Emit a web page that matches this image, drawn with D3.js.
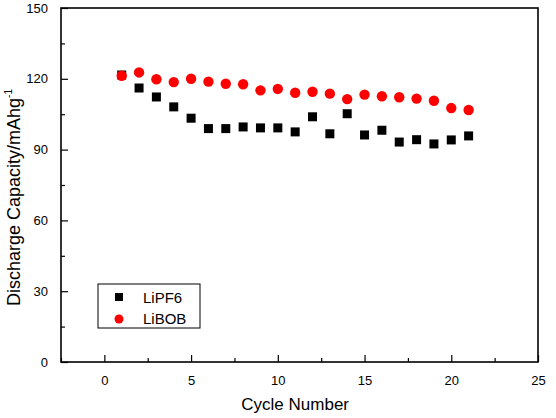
<!DOCTYPE html>
<html>
<head>
<meta charset="utf-8">
<script src="https://cdn.jsdelivr.net/npm/d3@7"></script>
<style>
  body { margin: 0; background: #fff; }
  svg text { font-family: "Liberation Sans", Arial, sans-serif; fill: #000; }
</style>
</head>
<body>
<div id="chart"></div>
<script>
// Discharge capacity vs cycle number for two electrolytes
const cycles = d3.range(1, 22);
const lipf6 = [121.6, 116.1, 112.3, 108.1, 103.3, 98.9, 98.9, 99.6, 99.2, 99.2, 97.5,
  103.9, 96.7, 105.2, 96.2, 98.2, 93.2, 94.2, 92.4, 94.1, 95.8];
const libob = [121.3, 122.7, 119.8, 118.6, 120.0, 118.8, 117.9, 117.7, 115.1, 115.7, 114.1,
  114.5, 113.7, 111.4, 113.3, 112.6, 112.2, 111.6, 110.7, 107.6, 106.8];
const xTicks = [0, 5, 10, 15, 20, 25];
const yTicks = [0, 30, 60, 90, 120, 150];

const W = 556, H = 418;
const margin = {top: 8, right: 18, bottom: 56, left: 61};
const width = W - margin.left - margin.right;
const height = H - margin.top - margin.bottom;

const svg = d3.select('#chart').append('svg')
  .attr('width', W)
  .attr('height', H);

const g = svg.append('g')
  .attr('transform', `translate(${margin.left},${margin.top})`);

const x = d3.scaleLinear().domain([-2.5, 25]).range([0, width]);
const y = d3.scaleLinear().domain([0, 150]).range([height, 0]);

// minor ticks
g.append('g')
  .attr('transform', `translate(0,${height})`)
  .call(d3.axisBottom(x).tickValues(d3.range(-2.5, 25, 5)).tickSize(-4).tickFormat(''))
  .call(a => a.select('.domain').remove())
  .selectAll('line').attr('stroke-width', 1.2);
g.append('g')
  .call(d3.axisLeft(y).tickValues(d3.range(15, 150, 30)).tickSize(-4).tickFormat(''))
  .call(a => a.select('.domain').remove())
  .selectAll('line').attr('stroke-width', 1.2);

// major axes
const xAxis = g.append('g')
  .attr('transform', `translate(0,${height})`)
  .call(d3.axisBottom(x).tickValues(xTicks).tickSize(-7).tickPadding(14));
xAxis.select('.domain').remove();
xAxis.selectAll('line').attr('stroke-width', 1.2);
xAxis.selectAll('text').style('font-size', '13px');

const yAxis = g.append('g')
  .call(d3.axisLeft(y).tickValues(yTicks).tickSize(-7).tickPadding(13));
yAxis.select('.domain').remove();
yAxis.selectAll('line').attr('stroke-width', 1.2);
yAxis.selectAll('text').style('font-size', '13px');

// frame
g.append('rect')
  .attr('width', width)
  .attr('height', height)
  .attr('fill', 'none')
  .attr('stroke', '#000')
  .attr('stroke-width', 1.6);

// points
const sq = 9;
g.selectAll('.pf6')
  .data(cycles)
  .enter().append('rect')
  .attr('x', (d, i) => x(d) - sq / 2)
  .attr('y', (d, i) => y(lipf6[i]) - sq / 2)
  .attr('width', sq)
  .attr('height', sq)
  .attr('fill', '#000');

g.selectAll('.bob')
  .data(cycles)
  .enter().append('circle')
  .attr('cx', d => x(d))
  .attr('cy', (d, i) => y(libob[i]))
  .attr('r', 5.2)
  .attr('fill', '#f00');

// legend
const lg = svg.append('g').attr('transform', 'translate(98,284)');
lg.append('rect')
  .attr('width', 102)
  .attr('height', 44)
  .attr('fill', '#fff')
  .attr('stroke', '#000')
  .attr('stroke-width', 1);
lg.append('rect')
  .attr('x', 17).attr('y', 9)
  .attr('width', 8).attr('height', 8)
  .attr('fill', '#000');
lg.append('circle')
  .attr('cx', 21).attr('cy', 35)
  .attr('r', 4.5)
  .attr('fill', '#f00');
lg.append('text').attr('x', 45).attr('y', 19).style('font-size', '15px').text('LiPF6');
lg.append('text').attr('x', 45).attr('y', 40).style('font-size', '15px').text('LiBOB');

// axis titles
svg.append('text')
  .attr('x', margin.left + x(11))
  .attr('y', 410)
  .attr('text-anchor', 'middle')
  .style('font-size', '17px')
  .text('Cycle Number');

const yt = svg.append('text')
  .attr('transform', 'translate(20, 306) rotate(-90)')
  .attr('text-anchor', 'start')
  .style('font-size', '18px');
yt.append('tspan').text('Discharge Capacity/mAhg');
yt.append('tspan').attr('dy', -8).style('font-size', '10px').text('-1');
</script>
</body>
</html>
